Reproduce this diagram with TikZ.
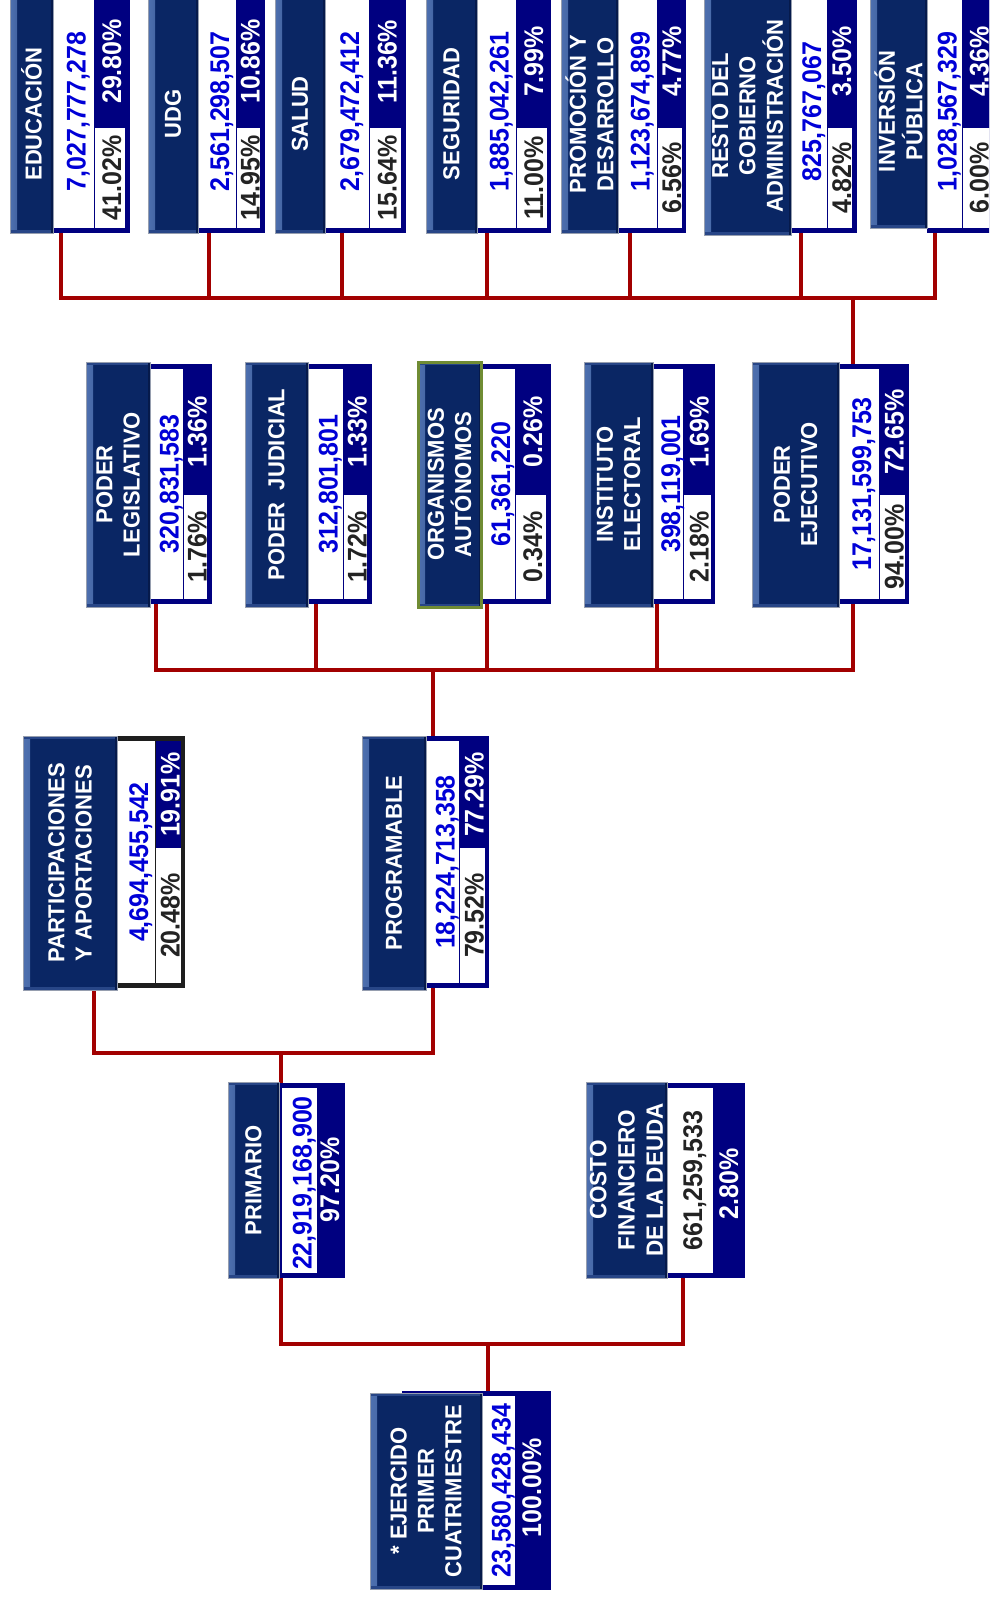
\documentclass[tikz,border=0pt]{standalone}
\usepackage{fontspec}
\setmainfont{Liberation Sans}
\usetikzlibrary{backgrounds}
\definecolor{navy}{RGB}{0,0,128}
\definecolor{lbldark}{RGB}{10,38,100}
\definecolor{lbllight}{RGB}{78,112,175}
\definecolor{lblmid}{RGB}{40,70,135}
\definecolor{lblshadow}{RGB}{6,26,75}
\definecolor{numblue}{RGB}{0,0,215}
\definecolor{txtblack}{RGB}{35,35,35}
\definecolor{connred}{RGB}{162,0,0}
\definecolor{orggreen}{RGB}{112,140,52}
\definecolor{edgegray}{RGB}{150,158,175}
\definecolor{boxblack}{RGB}{30,30,30}
\tikzset{
  rect/.style={inner sep=0pt, outer sep=0pt, anchor=north west},
  lblbox/.style={rect, fill=lbldark, draw=edgegray, line width=0.6pt,
    path picture={
      \shade[left color=lbllight, right color=lbldark]
        (path picture bounding box.north west) rectangle ([xshift=7pt]path picture bounding box.south west);
      \fill[lblmid] (path picture bounding box.north west) rectangle ([yshift=-3pt]path picture bounding box.north east);
      \fill[lblmid] (path picture bounding box.south west) rectangle ([yshift=3pt]path picture bounding box.south east);
      \fill[lblshadow] ([xshift=-2pt]path picture bounding box.north east) rectangle (path picture bounding box.south east);
    }},
  lblgreen/.style={lblbox, draw=orggreen, line width=3pt},
  navybox/.style={rect, fill=navy},
  blackbox/.style={rect, fill=boxblack},
  whitebox/.style={rect, fill=white},
  curnavy/.style={navybox},
  curlbl/.style={lblbox},
  lbltext/.style={xscale=1.05, rotate=90, align=center, inner sep=0pt, text=white,
    font=\fontsize{22}{26}\selectfont\bfseries},
  numtext/.style={xshift=2.5pt, xscale=1.08, rotate=90, inner sep=0pt, text=numblue, text height=18pt, text depth=0pt,
    font=\fontsize{25}{28}\selectfont\bfseries},
  pcttop/.style={xshift=1.5pt, xscale=1.08, rotate=90, inner sep=0pt, text=white, text height=18pt, text depth=0pt,
    font=\fontsize{25}{28}\selectfont\bfseries},
  pctbot/.style={pcttop, text=txtblack},
  conn/.style={draw=connred, line width=4.5pt, line join=miter},
}
% #1 style, #2 name, #3 x0, #4 y0, #5 x1, #6 y1
\newcommand\boxat[6]{\node[#1, minimum width={#5-(#3)}, minimum height={#6-(#4)}] (#2) at (#3,#4) {};}
% #1 name, #2 lx0, #3 lx1, #4 vx1, #5 px0, #6 px1, #7 nx1, #8 label, #9 number
\newcommand\tbox[9]{%
  \boxat{curnavy}{#1-n}{#3}{\NyA}{#7}{\NyB}
  \boxat{whitebox}{#1-v}{#3}{\WyA}{#4}{\WyB}
  \boxat{navybox}{#1-q}{#5}{\WyA}{#6}{\Sy}
  \boxat{whitebox}{#1-p}{#5}{\Sy}{#6}{\WyB}
  \boxat{curlbl}{#1}{#2}{\LyA}{#3}{\LyB}
  \node[lbltext] at (#1.center) {#8};
  \node[numtext] at (#1-v.center) {#9};
}
\newcommand\pcts[3]{\node[pcttop] at (#1-q.center) {#2};\node[pctbot] at (#1-p.center) {#3};}

\begin{document}
\begin{tikzpicture}[x=1pt,y=-1pt]
\useasboundingbox (0,0) rectangle (989,1598);
\clip (0,0) rectangle (989,1598);

% ---------- row 1 ----------
\def\LyA{-5}\def\LyB{233}\def\NyA{-5}\def\NyB{233}\def\WyA{-5}\def\WyB{228}\def\Sy{128}
\tbox{edu}{10}{53}{94}{95}{125}{130}{EDUCACIÓN}{7,027,777,278}\pcts{edu}{29.80\%}{41.02\%}
\tbox{udg}{148}{198}{236}{237}{260}{265}{UDG}{2,561,298,507}\pcts{udg}{10.86\%}{14.95\%}
\tbox{sal}{275}{325}{369}{370}{401}{406}{SALUD}{2,679,472,412}\pcts{sal}{11.36\%}{15.64\%}
\tbox{seg}{426}{477}{516}{517}{547}{551}{SEGURIDAD}{1,885,042,261}\pcts{seg}{7.99\%}{11.00\%}
\tbox{pro}{561}{618}{657}{658}{682}{686}{PROMOCIÓN Y\\DESARROLLO}{1,123,674,899}\pcts{pro}{4.77\%}{6.56\%}
\def\LyA{-3}\def\LyB{235}
\tbox{res}{704}{791}{827}{828}{852}{857}{RESTO DEL\\GOBIERNO\\ADMINISTRACIÓN}{825,767,067}\pcts{res}{3.50\%}{4.82\%}
\def\LyA{-5}\def\LyB{228}
\tbox{inv}{870}{927}{962}{963}{992}{998}{INVERSIÓN\\PÚBLICA}{1,028,567,329}\pcts{inv}{4.36\%}{6.00\%}

% ---------- row 2 ----------
\def\LyA{362}\def\LyB{607}\def\NyA{364}\def\NyB{604}\def\WyA{369}\def\WyB{599}\def\Sy{495}
\tbox{pl}{86}{150}{183}{184}{207}{212}{PODER\\LEGISLATIVO}{320,831,583}\pcts{pl}{1.36\%}{1.76\%}
\tbox{pj}{245}{308}{343}{344}{367}{372}{PODER\ \ JUDICIAL}{312,801,801}\pcts{pj}{1.33\%}{1.72\%}
\begin{scope}[curlbl/.style={lblgreen}]
\tbox{oa}{418}{481}{515}{516}{546}{551}{ORGANISMOS\\AUTÓNOMOS}{61,361,220}\pcts{oa}{0.26\%}{0.34\%}
\end{scope}
\tbox{ie}{584}{653}{683}{684}{711}{715}{INSTITUTO\\ELECTORAL}{398,119,001}\pcts{ie}{1.69\%}{2.18\%}
\tbox{pej}{752}{839}{879}{880}{905}{909}{PODER\\EJECUTIVO}{17,131,599,753}\pcts{pej}{72.65\%}{94.00\%}

% ---------- row 3 ----------
\def\LyA{736}\def\LyB{990}\def\NyA{736}\def\NyB{988}\def\WyA{741}\def\WyB{983}\def\Sy{848}
\begin{scope}[curnavy/.style={blackbox}]
\tbox{par}{23}{117}{155}{156}{181}{185}{PARTICIPACIONES\\Y APORTACIONES}{4,694,455,542}\pcts{par}{19.91\%}{20.48\%}
\end{scope}
\tbox{prog}{362}{426}{459}{460}{485}{489}{PROGRAMABLE}{18,224,713,358}\pcts{prog}{77.29\%}{79.52\%}

% ---------- row 4 ----------
\boxat{navybox}{prim-n}{279}{1083}{345}{1278}
\boxat{whitebox}{prim-v}{282}{1088}{317}{1273}
\boxat{lblbox}{prim}{228}{1082}{279}{1278}
\node[lbltext] at (prim.center) {PRIMARIO};
\node[numtext, xshift=-2.5pt] at (prim-v.center) {22,919,168,900};
\node[pcttop] (prim-pct) at (328,1180) {97.20\%};

\boxat{navybox}{cos-n}{667}{1083}{745}{1278}
\boxat{whitebox}{cos-v}{667}{1088}{713}{1273}
\boxat{lblbox}{cos}{586}{1082}{667}{1278}
\node[lbltext, font=\fontsize{22.5}{27}\selectfont\bfseries] at (cos.center) {COSTO\\FINANCIERO\\DE LA DEUDA};
\node[numtext, text=txtblack] at (cos-v.center) {661,259,533};
\node[pcttop] (cos-pct) at (727,1184) {2.80\%};

% ---------- row 5 ----------
\boxat{navybox}{ej-n}{402}{1391}{551}{1590}
\boxat{whitebox}{ej-v}{482}{1396}{515}{1585}
\boxat{lblbox}{ej}{370}{1393}{482}{1589}
\node[lbltext] at (ej.center) {* EJERCIDO\\PRIMER\\CUATRIMESTRE};
\node[numtext] at (ej-v.center) {23,580,428,434};
\node[pcttop] (ej-pct) at (530,1488) {100.00\%};

% ---------- connector points ----------
\coordinate (edu-c) at (61,233);
\coordinate (udg-c) at (209,233);
\coordinate (sal-c) at (342,233);
\coordinate (seg-c) at (487,233);
\coordinate (pro-c) at (630,233);
\coordinate (res-c) at (801,233);
\coordinate (inv-c) at (935,233);
\coordinate (bus1) at (853,298);
\coordinate (pl-c) at (156,604);
\coordinate (pj-c) at (316,604);
\coordinate (oa-c) at (487,604);
\coordinate (ie-c) at (657,604);
\coordinate (pej-c) at (853,604);
\coordinate (bus2) at (433,670);
\coordinate (par-c) at (94,988);
\coordinate (prog-c) at (433,988);
\coordinate (bus3) at (281,1053);
\coordinate (prim-c) at (281,1278);
\coordinate (cos-c) at (683,1278);
\coordinate (bus4) at (488,1344);

\begin{pgfonlayer}{background}
\draw[conn] (edu-c) -- (edu-c |- bus1) -- (inv-c |- bus1) -- (inv-c);
\foreach \n in {udg,sal,seg,pro,res} \draw[conn] (\n-c) -- (\n-c |- bus1);
\draw[conn] (bus1) -- (bus1 |- pej-n.north);

\draw[conn] (pl-c) -- (pl-c |- bus2) -- (pej-c |- bus2) -- (pej-c);
\foreach \n in {pj,oa,ie} \draw[conn] (\n-c) -- (\n-c |- bus2);
\draw[conn] (bus2) -- (bus2 |- prog-n.north);

\draw[conn] (par-c) -- (par-c |- bus3) -- (prog-c |- bus3) -- (prog-c);
\draw[conn] (bus3) -- (bus3 |- prim-n.north);

\draw[conn] (prim-c) -- (prim-c |- bus4) -- (cos-c |- bus4) -- (cos-c);
\draw[conn] (bus4) -- (bus4 |- ej-n.north);
\end{pgfonlayer}
\end{tikzpicture}
\end{document}
